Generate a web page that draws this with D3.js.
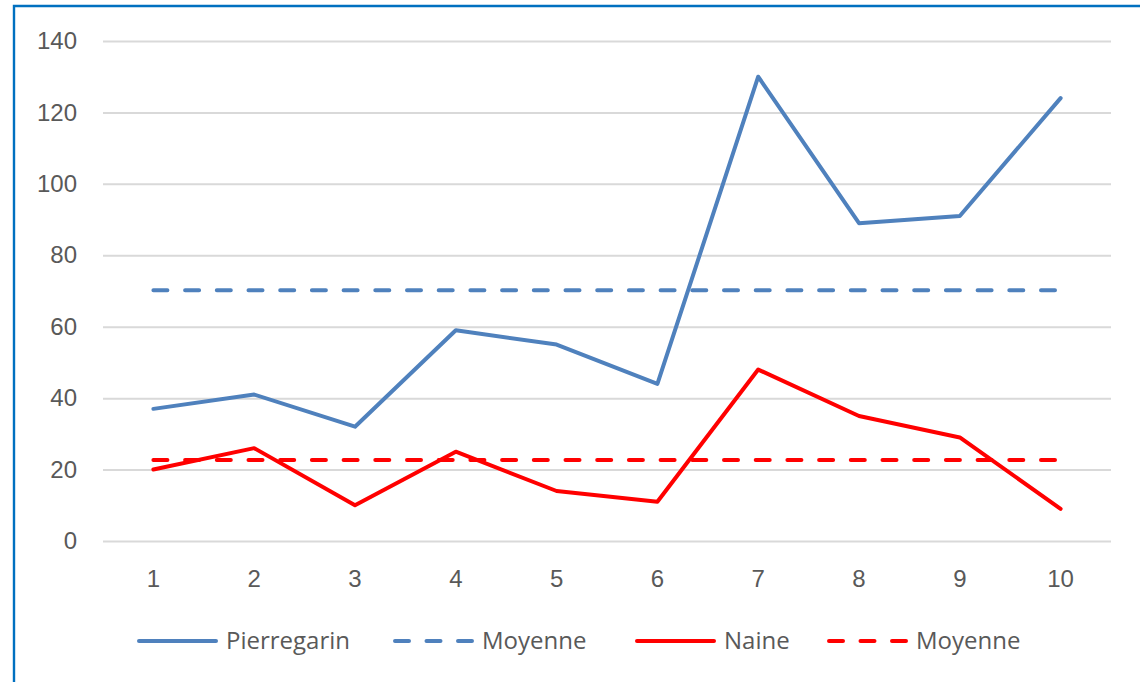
<!DOCTYPE html>
<html>
<head>
<meta charset="utf-8">
<script src="https://cdn.jsdelivr.net/npm/d3@7"></script>
<style>
  body { margin: 0; background: #fff; }
  svg { display: block; font-family: 'Open Sans', sans-serif; }
  .tick text { fill: #595959; font-size: 24px; }
</style>
</head>
<body>
<script>
const categories = ['1', '2', '3', '4', '5', '6', '7', '8', '9', '10'];
const pierregarin = [37, 41, 32, 59, 55, 44, 130, 89, 91, 124];
const naine = [20, 26, 10, 25, 14, 11, 48, 35, 29, 9];
const moyennePierre = 70.2;
const moyenneNaine = 22.7;
const yTicks = [0, 20, 40, 60, 80, 100, 120, 140];
const legendLabels = ['Pierregarin', 'Moyenne', 'Naine', 'Moyenne'];

const width = 1140;
const height = 682;
const margin = { top: 41, left: 103, right: 29, bottom: 141 };

const blue = '#4F81BD';
const red = '#FF0000';
const dash = '14,17.7';

const svg = d3.select('body')
  .append('svg')
  .attr('width', width)
  .attr('height', height);

// frame (only left and top edges show in the picture)
svg.append('path')
  .attr('d', `M14,${height} L14,6 L${width},6`)
  .attr('fill', 'none')
  .attr('stroke', '#0070C0')
  .attr('stroke-width', 2.4);

const x = d3.scaleBand()
  .domain(categories)
  .range([margin.left, width - margin.right]);

const y = d3.scaleLinear()
  .domain([0, 140])
  .range([height - margin.bottom, margin.top]);

// grid + y labels
const yAxis = svg.append('g')
  .attr('transform', `translate(${margin.left},0)`)
  .call(d3.axisLeft(y)
    .tickValues(yTicks)
    .tickSize(-(width - margin.left - margin.right))
    .tickPadding(26));
yAxis.select('.domain').remove();
yAxis.selectAll('.tick line')
  .attr('stroke', '#d9d9d9')
  .attr('stroke-width', 2);

// x labels
const xAxis = svg.append('g')
  .attr('transform', `translate(0,${height - margin.bottom})`)
  .call(d3.axisBottom(x).tickSize(0).tickPadding(29));
xAxis.select('.domain').remove();

const cx = d => x(d) + x.bandwidth() / 2;

const line = d3.line()
  .x((d, i) => cx(categories[i]))
  .y(d => y(d));

const series = [
  { values: categories.map(() => moyennePierre), color: blue, dashed: true },
  { values: categories.map(() => moyenneNaine), color: red, dashed: true },
  { values: pierregarin, color: blue, dashed: false },
  { values: naine, color: red, dashed: false }
];

svg.append('g')
  .selectAll('path')
  .data(series)
  .enter().append('path')
    .attr('d', d => line(d.values))
    .attr('fill', 'none')
    .attr('stroke', d => d.color)
    .attr('stroke-width', 4)
    .attr('stroke-linejoin', 'round')
    .attr('stroke-linecap', 'round')
    .attr('stroke-dasharray', d => d.dashed ? dash : null);

// legend
const legendItems = [
  { label: legendLabels[0], color: blue, dashed: false, x: 139 },
  { label: legendLabels[1], color: blue, dashed: true, x: 395 },
  { label: legendLabels[2], color: red, dashed: false, x: 637 },
  { label: legendLabels[3], color: red, dashed: true, x: 829 }
];

const legend = svg.append('g')
  .selectAll('g')
  .data(legendItems)
  .enter().append('g')
    .attr('transform', d => `translate(${d.x},641)`);

legend.append('line')
  .attr('x1', 0)
  .attr('x2', 77)
  .attr('stroke', d => d.color)
  .attr('stroke-width', 4)
  .attr('stroke-linecap', 'round')
  .attr('stroke-dasharray', d => d.dashed ? '14,17.5' : null);

legend.append('text')
  .attr('x', 87)
  .attr('dy', '0.35em')
  .attr('fill', '#595959')
  .style('font-size', '24px')
  .text(d => d.label);
</script>
</body>
</html>
